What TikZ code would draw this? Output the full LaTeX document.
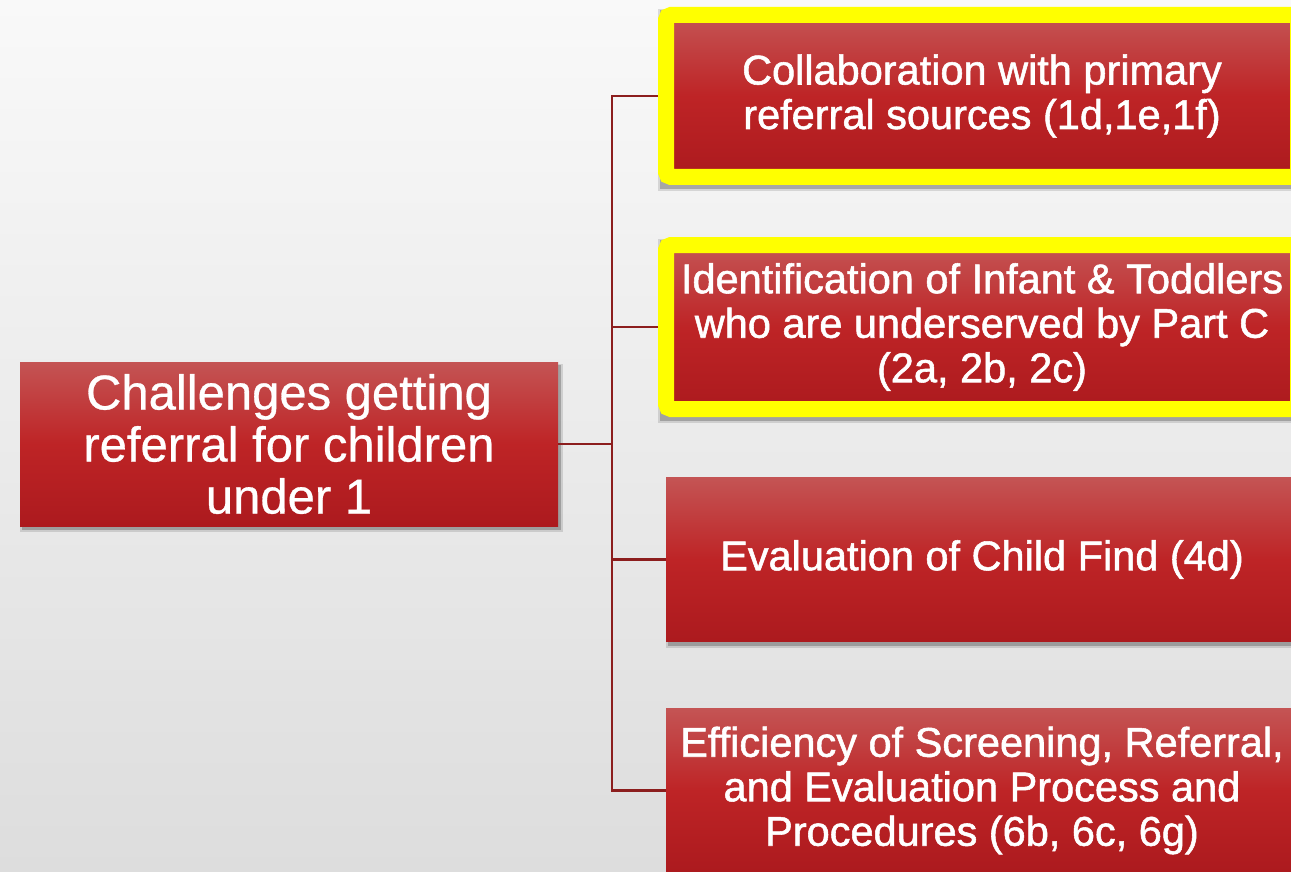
\documentclass[tikz,border=0pt]{standalone}
\usepackage{fontspec}
\setmainfont{Liberation Sans}
\newfontfamily\leaffont[FakeBold=1.3]{Liberation Sans}
\newfontfamily\rootfont[FakeBold=0.6]{Liberation Sans}
\definecolor{bgtop}{RGB}{249,249,249}
\definecolor{bgbot}{RGB}{221,221,221}
\definecolor{boxtop}{RGB}{196,84,84}
\definecolor{boxmid}{RGB}{190,36,38}
\definecolor{boxbot}{RGB}{172,26,30}
\definecolor{linkred}{RGB}{140,30,30}
\definecolor{hlyellow}{RGB}{255,255,0}
\begin{document}
\begin{tikzpicture}[x=1pt,y=-1pt,
  conn/.style={draw=linkred, line width=2.6pt},
  box/.style={rectangle, inner sep=0pt, top color=boxtop, bottom color=boxbot, middle color=boxmid, text=white, align=center},
  rootbox/.style={box, minimum width=538pt, minimum height=164pt, font=\rootfont\fontsize{49}{52}\selectfont},
  leafbox/.style={box, minimum width=632pt, minimum height=164pt, font=\leaffont\fontsize{41.5}{44.5}\selectfont},
  hl/.style={draw=hlyellow, line width=16pt, rounded corners=5pt},
  shadowa/.style={fill=black, opacity=0.12},
  shadowb/.style={fill=black, opacity=0.22}]
\useasboundingbox (0,0) rectangle (1291,872);
\shade[top color=bgtop, bottom color=bgbot] (0,0) rectangle (1291,872);
\clip (0,0) rectangle (1291,872);
% shadows
\fill[shadowa] (20,364) rectangle (563,532);
\fill[shadowb] (22,365) rectangle (561,530);
\fill[shadowa] (658,9) rectangle (1310,191);
\fill[shadowb] (660,10) rectangle (1310,189);
\fill[shadowa] (658,239) rectangle (1310,423);
\fill[shadowb] (660,240) rectangle (1310,421);
\fill[shadowa] (666,479) rectangle (1310,648);
\fill[shadowb] (668,480) rectangle (1310,646);
\fill[shadowa] (666,710) rectangle (1310,880);
\fill[shadowb] (668,711) rectangle (1310,880);
% nodes
\node[rootbox] (root) at (289,444) {Challenges getting\\referral for children\\under 1};
\node[leafbox, hl, minimum height=162pt] (b1) at (982,96) {Collaboration with primary\\referral sources (1d,1e,1f)};
\node[leafbox, hl, minimum height=164pt] (b2) at (982,327) {Identification of Infant \& Toddlers\\who are underserved by Part C\\(2a, 2b, 2c)};
\node[leafbox] (b3) at (982,559.5) {Evaluation of Child Find (4d)};
\node[leafbox] (b4) at (982,790.5) {Efficiency of Screening, Referral,\\and Evaluation Process and\\Procedures (6b, 6c, 6g)};
% connectors
\coordinate (j) at (612,444);
\draw[conn] (root.east) -- (j);
\draw[conn, line cap=rect] (j |- b1.west) -- (j |- b4.west);
\draw[conn] (j |- b1.west) -- (b1.west);
\draw[conn] (j |- b2.west) -- (b2.west);
\draw[conn] (j |- b3.west) -- (b3.west);
\draw[conn] (j |- b4.west) -- (b4.west);
\end{tikzpicture}
\end{document}
